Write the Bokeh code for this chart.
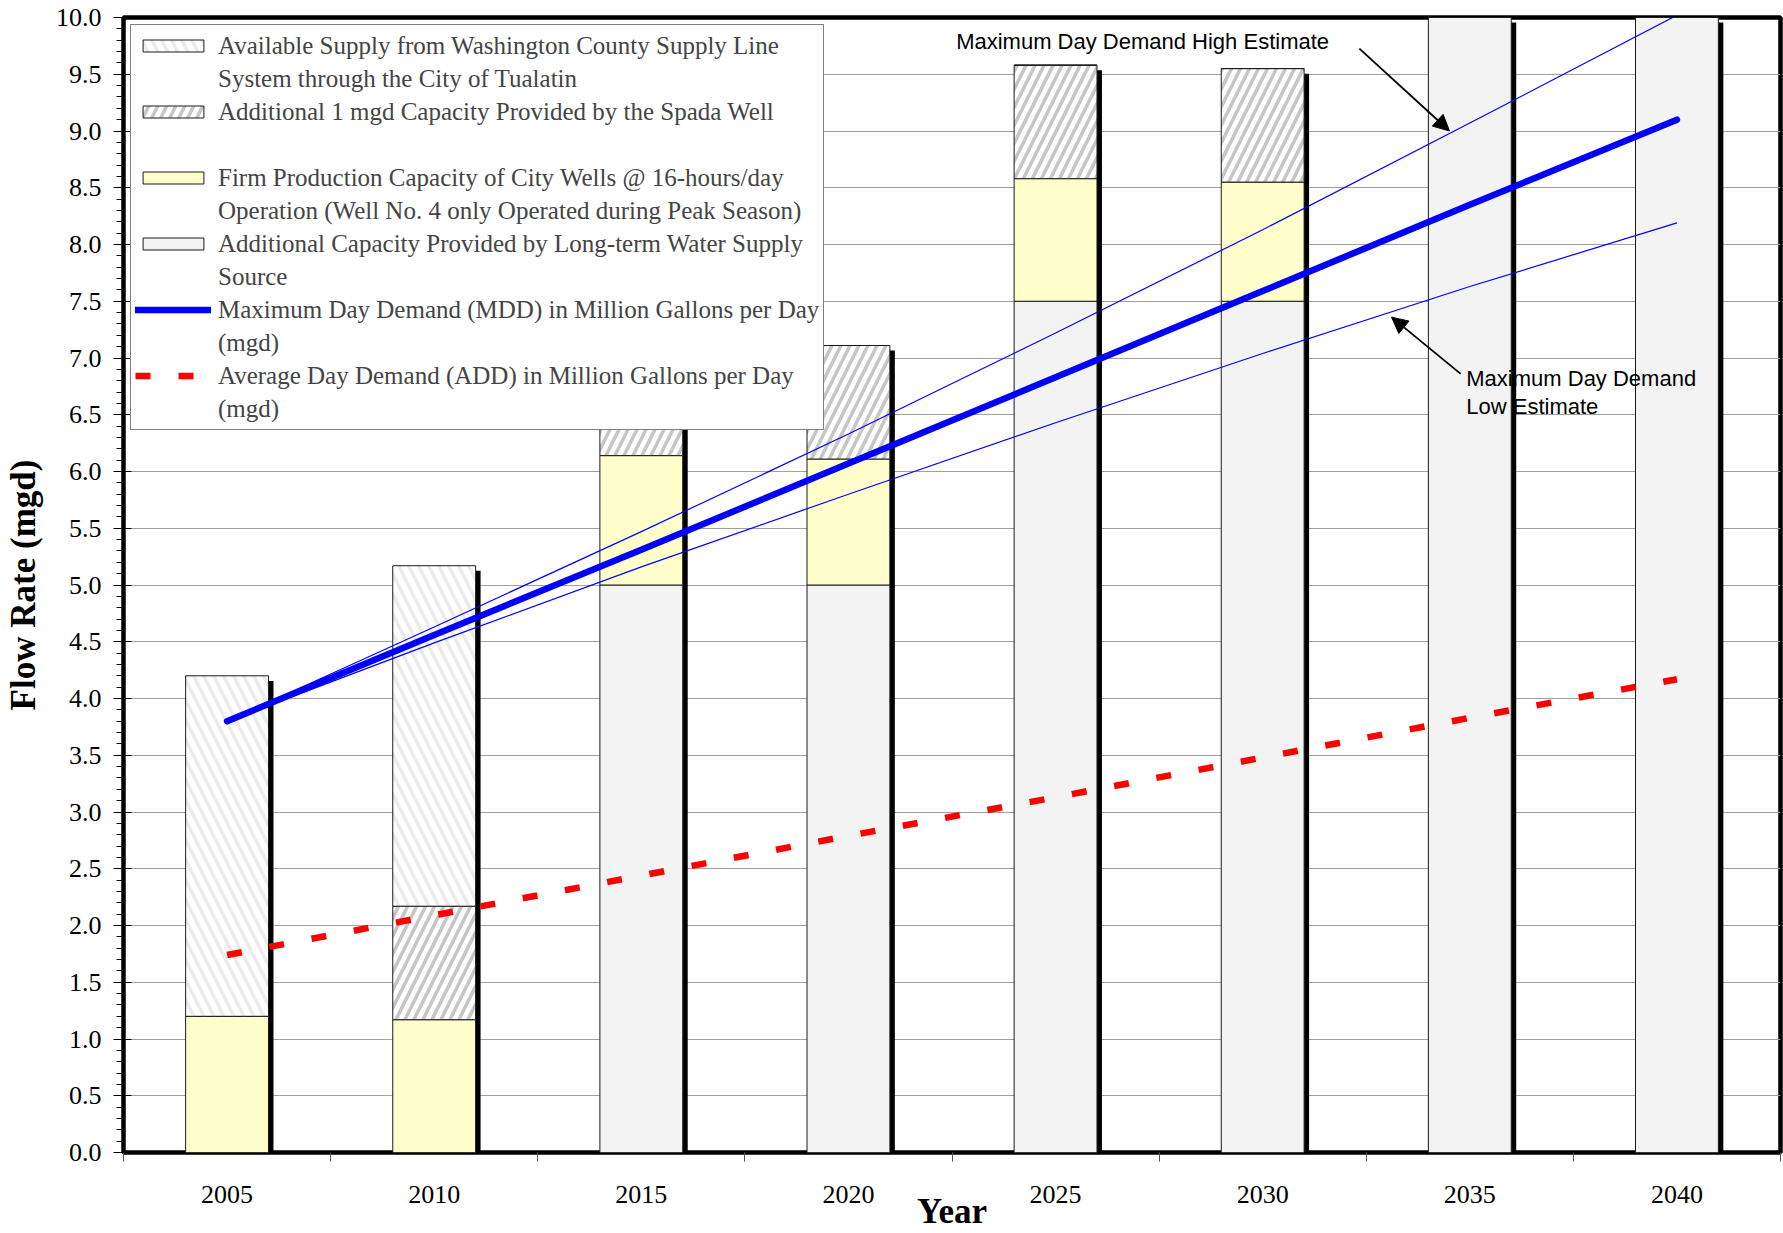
import numpy as np
from bokeh.plotting import figure
from bokeh.models import (Range1d, FixedTicker, Legend, LegendItem, Label, Arrow, NormalHead,
                          ColumnDataSource, CanvasTexture, PrintfTickFormatter)
from bokeh.core.properties import value
from bokeh.transform import dodge
from bokeh.embed import file_html
from bokeh.resources import INLINE

# ---------------- data ----------------
years = ["2005", "2010", "2015", "2020", "2025", "2030", "2035", "2040"]
long_term = [0.0, 0.0, 5.0, 5.0, 7.5, 7.5, 10.0, 10.0]      # Long-term water supply source
city_wells = [1.20, 1.17, 1.14, 1.11, 1.08, 1.05, 0.0, 0.0]  # Firm production capacity of city wells
spada_well = [0.0, 1.0, 1.0, 1.0, 1.0, 1.0, 0.0, 0.0]        # Spada well
washington = [3.0, 3.0, 0.0, 0.0, 0.0, 0.0, 0.0, 0.0]        # Washington County supply line
mdd = [3.80, 4.56, 5.31, 6.07, 6.83, 7.59, 8.35, 9.10]
mdd_high = [3.80, 4.63, 5.47, 6.33, 7.22, 8.13, 9.07, 10.02]
mdd_low = [3.80, 4.49, 5.16, 5.80, 6.43, 7.04, 7.63, 8.19]
add = [1.74, 2.09, 2.44, 2.79, 3.13, 3.48, 3.83, 4.17]

legend_rows = [
    ("Available Supply from Washington County Supply Line", "washington"),
    ("System through the City of Tualatin", None),
    ("Additional 1 mgd Capacity Provided by the Spada Well", "spada"),
    (" ", None),
    ("Firm Production Capacity of City Wells @ 16-hours/day", "wells"),
    ("Operation (Well No. 4 only Operated during Peak Season)", None),
    ("Additional Capacity Provided by Long-term Water Supply", "longterm"),
    ("Source", None),
    ("Maximum Day Demand (MDD) in Million Gallons per Day", "mdd"),
    ("(mgd)", None),
    ("Average Day Demand (ADD) in Million Gallons per Day", "add"),
    ("(mgd)", None),
]

# ---------------- layout constants ----------------
N = len(years)
BAR_W = 0.4
SHADOW_DX = 0.024
SHADOW_DY = 0.045
SERIF = "Liberation Serif"
SANS = "Liberation Sans"

xc = np.arange(N) + 0.5
total = np.array(long_term) + np.array(city_wells) + np.array(spada_well) + np.array(washington)

src = ColumnDataSource(dict(x=xc, long_term=long_term, city_wells=city_wells,
                            spada=spada_well, washington=washington, total=total))

p = figure(width=1783, height=1233, x_range=Range1d(0, N), y_range=Range1d(0, 10),
           output_backend="svg", toolbar_location=None,
           min_border_left=121, min_border_right=3, min_border_top=17, min_border_bottom=81,
           background_fill_color="white", border_fill_color="white")

p.outline_line_color = "black"
p.outline_line_width = 4.5
p.outline_line_alpha = 1.0

# grid
p.xgrid.visible = False
p.ygrid.ticker = FixedTicker(ticks=[i * 0.5 for i in range(21)])
p.ygrid.grid_line_color = "#a0a0a0"
p.ygrid.grid_line_width = 1

# checker texture
checker = CanvasTexture(code="""
const h = scale / 2;
ctx.fillStyle = '#e2e2e2';
ctx.fillRect(0, 0, h, h);
ctx.fillRect(h, h, h, h);
""")

# shadow behind bars
p.vbar(x=dodge("x", SHADOW_DX), width=BAR_W, bottom=0, top=dodge("total", -SHADOW_DY),
       source=src, fill_color="black", line_color=None)

stacks = p.vbar_stack(["long_term", "city_wells", "spada", "washington"], x="x", width=BAR_W,
                      source=src,
                      fill_color=["white", "#ffffcc", "white", "white"],
                      hatch_pattern=[value("checker"), value(" "), value("/"), value("\\")],
                      hatch_color=["#e2e2e2", "black", "#c6c6c6", "#ebebeb"],
                      hatch_weight=[1, 1, 3.5, 3.5],
                      hatch_scale=[10, 10, 18, 20],
                      hatch_extra={"checker": checker},
                      line_color="#1a1a1a", line_width=1)
r_long, r_wells, r_spada, r_wash = stacks

r_high = p.line(xc, mdd_high, line_color="#0000ff", line_width=1.2)
r_low = p.line(xc, mdd_low, line_color="#0000ff", line_width=1.2)
r_mdd = p.line(xc, mdd, line_color="#0000ff", line_width=6.5, line_cap="round")
r_add = p.line(xc, add, line_color="#ff0000", line_width=6.5, line_dash="15 28")
r_blank = p.line(x=[], y=[], line_alpha=0)

rmap = {"washington": r_wash, "spada": r_spada, "wells": r_wells, "longterm": r_long,
        "mdd": r_mdd, "add": r_add, None: r_blank}

legend = Legend(items=[LegendItem(label=value(t), renderers=[rmap[k]]) for t, k in legend_rows],
                location="top_left", margin=7, padding=4, spacing=0,
                glyph_width=76, glyph_height=15, label_standoff=7, label_height=33,
                label_text_font=SERIF, label_text_font_size="25px",
                border_line_color="black", border_line_width=1,
                background_fill_color="white", background_fill_alpha=1.0)
p.add_layout(legend)

# axes
yax = p.yaxis[0]
yax.ticker = FixedTicker(ticks=[i * 0.5 for i in range(21)], minor_ticks=[i * 0.1 for i in range(101)])
yax.formatter = PrintfTickFormatter(format="%.1f")
yax.axis_line_color = None
yax.major_tick_out = 10
yax.major_tick_in = 8
yax.minor_tick_out = 7
yax.minor_tick_in = 0
yax.major_tick_line_color = "black"
yax.minor_tick_line_color = "black"
yax.major_label_standoff = 12
yax.major_label_text_font = SERIF
yax.major_label_text_font_size = "26px"
yax.major_label_text_color = "black"
yax.axis_label = "Flow Rate (mgd)"
yax.axis_label_text_font = SERIF
yax.axis_label_text_font_size = "35px"
yax.axis_label_text_font_style = "bold"
yax.axis_label_text_color = "black"
yax.axis_label_standoff = 10

xax = p.xaxis[0]
xax.ticker = FixedTicker(ticks=list(xc), minor_ticks=list(range(N + 1)))
xax.major_label_overrides = {float(v): y for v, y in zip(xc, years)}
xax.axis_line_color = None
xax.major_tick_out = 0
xax.major_tick_in = 0
xax.minor_tick_out = 9
xax.minor_tick_in = 0
xax.minor_tick_line_color = "#555555"
xax.major_label_standoff = 24
xax.major_label_text_font = SERIF
xax.major_label_text_font_size = "26px"
xax.major_label_text_color = "black"
xax.axis_label = "Year"
xax.axis_label_text_font = SERIF
xax.axis_label_text_font_size = "35px"
xax.axis_label_text_font_style = "bold"
xax.axis_label_text_color = "black"
xax.axis_label_standoff = -14

# annotations
HIGH_TXT = (4.02, 9.785)
LOW_TXT = (6.483, 6.82, 6.57)
HIGH_ARROW = (5.967, 9.726, 6.402, 9.0)
LOW_ARROW = (6.456, 6.86, 6.122, 7.36)

p.add_layout(Label(x=HIGH_TXT[0], y=HIGH_TXT[1], text="Maximum Day Demand High Estimate",
                   text_font=SANS, text_font_size="22px", text_baseline="middle", text_color="black"))
p.add_layout(Label(x=LOW_TXT[0], y=LOW_TXT[1], text="Maximum Day Demand",
                   text_font=SANS, text_font_size="22px", text_baseline="middle", text_color="black"))
p.add_layout(Label(x=LOW_TXT[0], y=LOW_TXT[2], text="Low Estimate",
                   text_font=SANS, text_font_size="22px", text_baseline="middle", text_color="black"))
for xs, ys, xe, ye in (HIGH_ARROW, LOW_ARROW):
    p.add_layout(Arrow(end=NormalHead(size=16, fill_color="black", line_color="black", line_width=1),
                       x_start=xs, y_start=ys, x_end=xe, y_end=ye,
                       line_color="black", line_width=1.8))

open("out.html", "w").write(file_html(p, INLINE))
